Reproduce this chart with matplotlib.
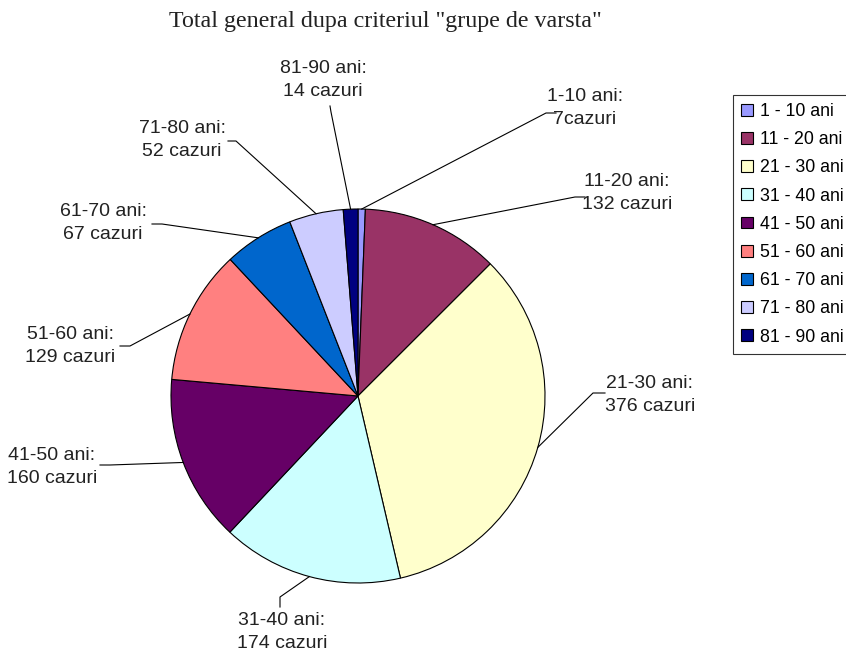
import matplotlib

matplotlib.use("Agg")
import matplotlib.pyplot as plt
import numpy as np

# age groups and number of cases
groups = ["1 - 10 ani", "11 - 20 ani", "21 - 30 ani", "31 - 40 ani", "41 - 50 ani",
          "51 - 60 ani", "61 - 70 ani", "71 - 80 ani", "81 - 90 ani"]
short = ["1-10", "11-20", "21-30", "31-40", "41-50", "51-60", "61-70", "71-80", "81-90"]
cases = [7, 132, 376, 174, 160, 129, 67, 52, 14]
colors = ["#9999FF", "#993366", "#FFFFCC", "#CCFFFF", "#660066",
          "#FF8080", "#0066CC", "#CCCCFF", "#000080"]

# label centres and leader-line attach points, in pixels (image coords)
label_px = [(585, 108), (627, 193), (650, 395), (282, 632), (52, 467),
            (70, 346), (103, 223), (182, 140), (323, 80)]
attach_px = [(556, 113), (585, 197), (605, 393), (280, 607), (100, 465),
             (120, 346), (152, 224), (228, 141), (330, 106)]
elbow_px = [(546, 113), (575, 197), (593, 393), (280, 597), (110, 465),
            (130, 346), (162, 224), (236, 141), (331, 112)]

W, H = 846, 656
cx, cy, r = 358, 396, 187


def to_data(p):
    return (p[0] - cx) / r, (cy - p[1]) / r


fig = plt.figure(figsize=(W / 100, H / 100), dpi=100)
ax = fig.add_axes([(cx - r) / W, (H - cy - r) / H, 2 * r / W, 2 * r / H])

wedges, _ = ax.pie(
    cases,
    colors=colors,
    startangle=90,
    counterclock=False,
    radius=1,
    wedgeprops=dict(edgecolor="black", linewidth=0.8),
)
ax.set_xlim(-1, 1)
ax.set_ylim(-1, 1)
ax.set_aspect("equal")
ax.axis("off")

for i, w in enumerate(wedges):
    mid = np.deg2rad((w.theta1 + w.theta2) / 2)
    edge = (np.cos(mid), np.sin(mid))
    a = to_data(attach_px[i])
    e = to_data(elbow_px[i])
    ax.plot([a[0], e[0], edge[0]], [a[1], e[1], edge[1]],
            color="black", lw=0.8, clip_on=False)
    tx, ty = to_data(label_px[i])
    sep = "" if i == 0 else " "
    ax.text(tx, ty, f"{short[i]} ani:\n{cases[i]}{sep}cazuri",
            ha="center", va="center", fontsize=14, family="Liberation Sans",
            color="#222222", linespacing=1.4, clip_on=False)

fig.text(385 / W, 1 - 21 / H, 'Total general dupa criteriul "grupe de varsta"',
         ha="center", va="center", fontsize=17.3, family="Liberation Serif",
         color="#222222")

leg = fig.legend(
    wedges,
    groups,
    loc="upper left",
    bbox_to_anchor=(733 / W, 1 - 95 / H),
    frameon=True,
    fancybox=False,
    edgecolor="black",
    prop=dict(family="Liberation Sans", size=12.8),
    handlelength=0.65,
    handleheight=0.65,
    handletextpad=0.4,
    labelspacing=0.63,
    borderpad=0.45,
    borderaxespad=0,
)
leg.get_frame().set_linewidth(0.8)

fig.savefig("out.png", dpi=100)
